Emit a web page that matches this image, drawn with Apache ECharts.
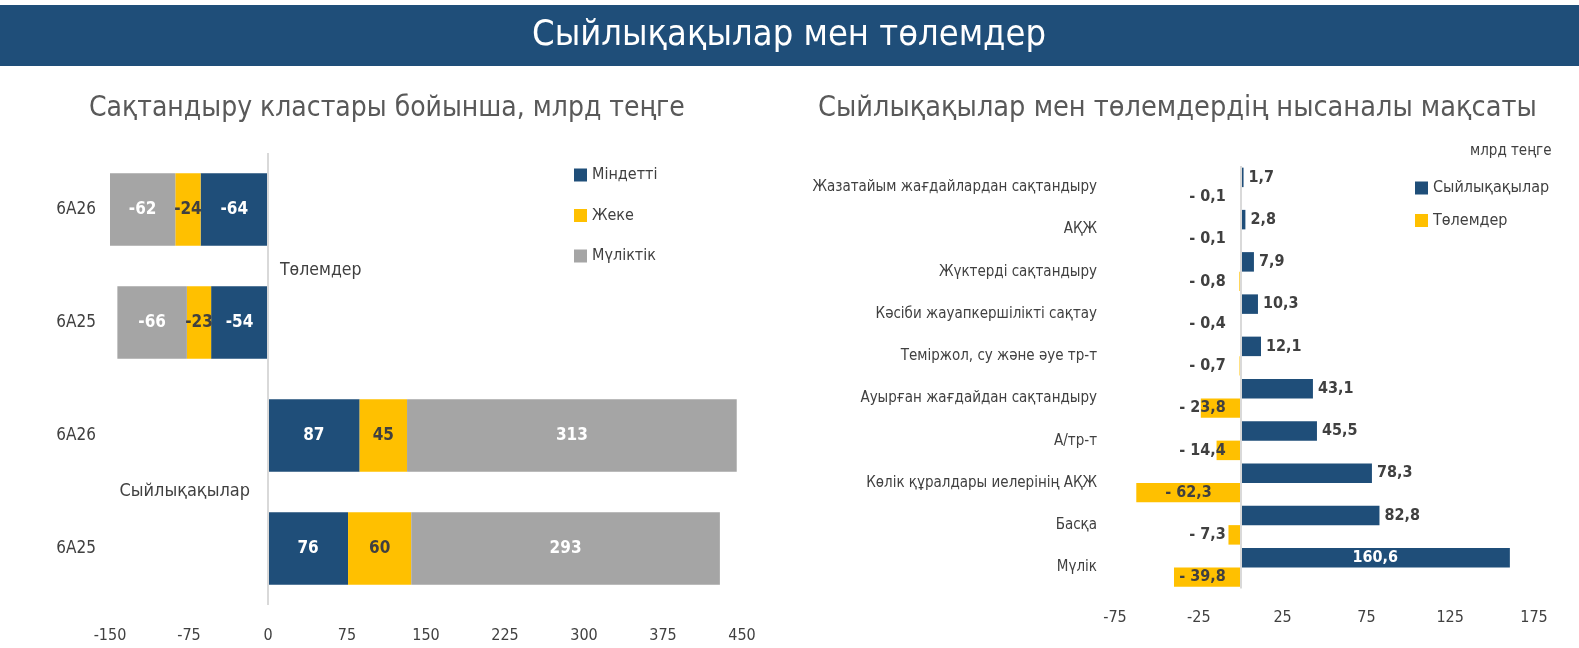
<!DOCTYPE html>
<html>
<head>
<meta charset="utf-8">
<script src="https://cdn.jsdelivr.net/npm/echarts@6/dist/echarts.min.js"></script>
<style>
  html, body { margin: 0; padding: 0; background: #fff; }
  #chart { width: 1579px; height: 648px; }
</style>
</head>
<body>
<div id="chart"></div>
<script>
// сол жақ: сақтандыру кластары бойынша
var leftCats = ['Төлемдер|6А26', 'Төлемдер|6А25', 'Сыйлықақылар|6А26', 'Сыйлықақылар|6А25'];
var mindetti = [-64, -54, 87, 76];
var zheke = [-24, -23, 45, 60];
var mulikti = [-62, -66, 313, 293];

// оң жақ: нысаналы мақсаты
var rightCats = [
  'Жазатайым жағдайлардан сақтандыру',
  'АҚЖ',
  'Жүктерді сақтандыру',
  'Кәсіби жауапкершілікті сақтау',
  'Теміржол, су және әуе тр-т',
  'Ауырған жағдайдан сақтандыру',
  'А/тр-т',
  'Көлік құралдары иелерінің АҚЖ',
  'Басқа',
  'Мүлік'
];
var premiums = [1.7, 2.8, 7.9, 10.3, 12.1, 43.1, 45.5, 78.3, 82.8, 160.6];
var payments = [-0.1, -0.1, -0.8, -0.4, -0.7, -23.8, -14.4, -62.3, -7.3, -39.8];

var FONT = '"DejaVu Sans Condensed", "Liberation Sans Narrow", sans-serif';
var BLUE = '#1F4E79', YELLOW = '#FFC000', GRAY = '#A5A5A5', TXT = '#404040';

var myChart = echarts.init(document.getElementById('chart'));

function comma(v) { return v.toFixed(1).replace('.', ','); }

function txt(x, y, text, size, color, align) {
  return {
    type: 'text', x: x, y: y, silent: true,
    style: { text: text, fill: color, font: size + 'px ' + FONT,
      align: align || 'left', verticalAlign: 'middle' }
  };
}

function leftSeries(name, data, color, labelColor, withLine) {
  var s = {
    name: name,
    type: 'bar',
    stack: 'total',
    xAxisIndex: 0,
    yAxisIndex: 0,
    barCategoryGap: '36%',
    data: data,
    itemStyle: { color: color },
    label: {
      show: true,
      position: 'inside',
      color: labelColor,
      fontFamily: FONT,
      fontWeight: 'bold',
      fontSize: 17
    }
  };
  if (withLine) {
    s.markLine = {
      silent: true,
      symbol: 'none',
      label: { show: false },
      lineStyle: { color: '#D9D9D9', type: 'solid', width: 2 },
      data: [{ xAxis: 0 }]
    };
  }
  return s;
}

var option = {
  animation: false,
  textStyle: { fontFamily: FONT },
  graphic: [
    { type: 'rect', silent: true, shape: { x: 0, y: 5, width: 1579, height: 61 }, style: { fill: BLUE } },
    txt(789, 36, 'Сыйлықақылар мен төлемдер', 36, '#fff', 'center'),
    txt(89, 109, 'Сақтандыру кластары бойынша, млрд теңге', 28, '#595959'),
    txt(818, 109, 'Сыйлықақылар мен төлемдердің нысаналы мақсаты', 28.6, '#595959'),
    txt(280, 270, 'Төлемдер', 17.5, TXT),
    txt(250, 491, 'Сыйлықақылар', 18, TXT, 'right'),
    txt(1470, 151, 'млрд теңге', 15, TXT)
  ],
  legend: [
    {
      data: ['Міндетті', 'Жеке', 'Мүліктік'],
      orient: 'vertical',
      left: 569, top: 162,
      itemWidth: 13, itemHeight: 13, itemGap: 24.5,
      icon: 'rect',
      textStyle: { color: TXT, fontSize: 16, fontFamily: FONT }
    },
    {
      data: ['Сыйлықақылар', 'Төлемдер'],
      orient: 'vertical',
      left: 1410, top: 175,
      itemWidth: 13, itemHeight: 13, itemGap: 16.5,
      icon: 'rect',
      textStyle: { color: TXT, fontSize: 16, fontFamily: FONT }
    }
  ],
  grid: [
    { left: 110, right: 837, top: 153, bottom: 43, containLabel: false, outerBoundsMode: 'none' },
    { left: 1115, right: 45, top: 166, bottom: 59.5, containLabel: false, outerBoundsMode: 'none' }
  ],
  xAxis: [
    {
      gridIndex: 0, type: 'value', min: -150, max: 450, interval: 75,
      splitLine: { show: false }, axisLine: { show: false }, axisTick: { show: false },
      axisLabel: { color: TXT, fontSize: 16, margin: 23 }
    },
    {
      gridIndex: 1, type: 'value', min: -75, max: 175, interval: 50,
      splitLine: { show: false }, axisLine: { show: false }, axisTick: { show: false },
      axisLabel: { color: TXT, fontSize: 16, margin: 21 }
    }
  ],
  yAxis: [
    {
      gridIndex: 0, type: 'category', inverse: true, data: leftCats,
      axisLine: { show: false }, axisTick: { show: false },
      axisLabel: { color: TXT, fontSize: 17, margin: 14, padding: [5, 0, 0, 0],
        formatter: function (v) { return v.split('|')[1]; } }
    },
    {
      gridIndex: 1, type: 'category', inverse: true, data: rightCats,
      axisLine: { show: false }, axisTick: { show: false },
      axisLabel: { color: TXT, fontSize: 15, margin: 18, padding: [5, 0, 0, 0] }
    }
  ],
  series: [
    leftSeries('Міндетті', mindetti, BLUE, '#fff', true),
    leftSeries('Жеке', zheke, YELLOW, TXT, false),
    leftSeries('Мүліктік', mulikti, GRAY, '#fff', false),
    {
      name: 'Сыйлықақылар',
      type: 'bar',
      xAxisIndex: 1, yAxisIndex: 1,
      barGap: '0%', barCategoryGap: '7.7%',
      itemStyle: { color: BLUE },
      data: premiums.map(function (v) {
        if (v > 120) {
          return { value: v, label: { position: 'inside', color: '#fff' } };
        }
        return v;
      }),
      label: {
        show: true, position: 'right', distance: 5,
        color: TXT, fontWeight: 'bold', fontSize: 16, fontFamily: FONT,
        formatter: function (p) { return comma(p.value); }
      },
      markLine: {
        silent: true, symbol: 'none', label: { show: false },
        lineStyle: { color: '#D9D9D9', type: 'solid', width: 2 },
        data: [{ xAxis: 0 }]
      }
    },
    {
      name: 'Төлемдер',
      type: 'bar',
      xAxisIndex: 1, yAxisIndex: 1,
      barGap: '0%', barCategoryGap: '7.7%',
      itemStyle: { color: YELLOW },
      data: payments.map(function (v) {
        if (v < -50) {
          return { value: v, label: { position: 'inside' } };
        }
        return v;
      }),
      label: {
        show: true, position: 'insideRight', distance: 15,
        color: TXT, fontWeight: 'bold', fontSize: 16, fontFamily: FONT,
        formatter: function (p) { return '- ' + comma(Math.abs(p.value)); }
      }
    }
  ]
};

myChart.setOption(option);
</script>
</body>
</html>
